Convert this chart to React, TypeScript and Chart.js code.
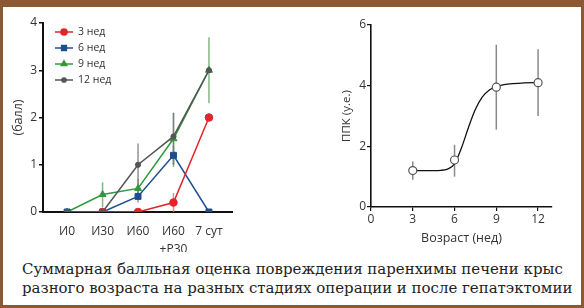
import React, { useEffect, useRef, useState } from 'react';
import { Chart, registerables } from 'chart.js';
import { drawPoint } from 'chart.js/helpers';

Chart.register(...registerables);

// ---------- Left chart data ----------
const stageLabels: (string | string[])[] = ['И0', 'И30', 'И60', ['И60', '+Р30'], '7 сут'];
const stageIdx = [0, 1, 2, 3, 4];
const leftYTicks = [0, 1, 2, 3, 4];
const seriesLabels = ['3 нед', '6 нед', '9 нед', '12 нед'];
const w3 = [null, 0, 0, 0.2, 2.0];
const w6 = [0, 0, 0.33, 1.2, 0];
const w9 = [0, 0.37, 0.5, 1.55, 3.0];
const w12 = [0, 0, 1.0, 1.6, 3.0];
const w3Lo = [null, null, null, 0.0, null];
const w3Hi = [null, null, null, 0.4, null];
const w6Lo = [null, null, 0.2, 1.0, null];
const w6Hi = [null, null, 0.45, 1.4, null];
const w9Lo = [null, 0.1, 0.3, 0.95, 2.3];
const w9Hi = [null, 0.63, 0.7, 2.1, 3.7];
const w12Lo = [null, null, 0.3, 1.0, null];
const w12Hi = [null, null, 1.45, 2.1, null];

// ---------- Right chart data ----------
const ageWeeks = [3, 6, 9, 12];
const ppk = [1.2, 1.55, 3.95, 4.1];
const ppkLo = [0.9, 1.0, 2.55, 3.0];
const ppkHi = [1.5, 2.05, 5.35, 5.2];
const fitX = [3, 4, 5, 5.5, 6, 6.5, 7, 7.5, 8, 8.5, 9, 10, 11, 12];
const fitY = [1.2, 1.2, 1.21, 1.25, 1.42, 1.95, 2.62, 3.22, 3.63, 3.86, 3.97, 4.06, 4.09, 4.1];
const rightXTicks = [0, 3, 6, 9, 12];
const rightYTicks = [0, 2, 4, 6];

const captionLines = [
  'Суммарная балльная оценка повреждения паренхимы печени крыс',
  'разного возраста на разных стадиях операции и после гепатэктомии',
];

const FONT = "'Open Sans', 'DejaVu Sans', sans-serif";
const SERIF = "'DejaVu Serif', 'Liberation Serif', serif";

const errorBarPlugin = {
  id: 'errorBars',
  beforeDatasetsDraw(chart: any) {
    const ctx = chart.ctx;
    const yScale = chart.scales.y;
    chart.data.datasets.forEach((ds: any, i: number) => {
      if (!ds.errLo) return;
      const meta = chart.getDatasetMeta(i);
      ctx.save();
      ctx.strokeStyle = ds.errColor;
      ctx.lineWidth = ds.errWidth || 1.5;
      meta.data.forEach((pt: any, j: number) => {
        const lo = ds.errLo[j];
        const hi = ds.errHi[j];
        if (lo == null || hi == null) return;
        ctx.beginPath();
        ctx.moveTo(pt.x, yScale.getPixelForValue(lo));
        ctx.lineTo(pt.x, yScale.getPixelForValue(hi));
        ctx.stroke();
      });
      ctx.restore();
    });
  },
};

const legendPlugin = {
  id: 'inlineLegend',
  afterDraw(chart: any) {
    const ctx = chart.ctx;
    const x0 = 51;
    const y0 = 25;
    const step = 16;
    chart.data.datasets.forEach((ds: any, i: number) => {
      const y = y0 + i * step;
      ctx.save();
      ctx.strokeStyle = ds.borderColor;
      ctx.lineWidth = 1.5;
      ctx.beginPath();
      ctx.moveTo(x0, y);
      ctx.lineTo(x0 + 18, y);
      ctx.stroke();
      ctx.fillStyle = ds.backgroundColor;
      ctx.strokeStyle = ds.borderColor;
      drawPoint(ctx, { pointStyle: ds.pointStyle, radius: ds.pointRadius * 0.8, rotation: 0, borderWidth: 1 }, x0 + 9, y);
      ctx.fillStyle = '#333';
      ctx.font = `10.5px ${FONT}`;
      ctx.textBaseline = 'middle';
      ctx.fillText(ds.label, x0 + 23, y + 0.5);
      ctx.restore();
    });
  },
};

function toPoints(xs: number[], ys: (number | null)[]) {
  return xs.map((x, i) => ({ x, y: ys[i] }));
}

function LeftChart() {
  const ref = useRef<HTMLCanvasElement>(null);
  useEffect(() => {
    const mk = (label: string, data: any[], color: string, style: string, r: number, lo: any[], hi: any[], errColor: string, order: number) => ({
      label,
      data: toPoints(stageIdx, data),
      borderColor: color,
      backgroundColor: color,
      pointStyle: style,
      pointRadius: r,
      pointBorderWidth: 1,
      borderWidth: 1.5,
      spanGaps: false,
      errLo: lo,
      errHi: hi,
      errColor,
      order,
    });
    const chart = new Chart(ref.current!, {
      type: 'line',
      data: {
        datasets: [
          mk(seriesLabels[0], w3, '#e3242b', 'circle', 3.8, w3Lo, w3Hi, 'rgba(230,110,110,0.8)', 2),
          mk(seriesLabels[1], w6, '#1d4f8f', 'rect', 4.2, w6Lo, w6Hi, 'rgba(80,110,160,0.7)', 3),
          mk(seriesLabels[2], w9, '#2e9a3b', 'triangle', 4, w9Lo, w9Hi, 'rgba(110,170,110,0.85)', 4),
          mk(seriesLabels[3], w12, '#555555', 'circle', 2.6, w12Lo, w12Hi, 'rgba(120,120,120,0.8)', 1),
        ] as any,
      },
      options: {
        responsive: false,
        animation: false,
        layout: { padding: { left: 7, top: 16, right: 8, bottom: 0 } },
        plugins: { legend: { display: false }, tooltip: { enabled: false } },
        scales: {
          x: {
            type: 'linear',
            min: -0.68,
            max: 4.65,
            afterBuildTicks: (s: any) => { s.ticks = stageIdx.map((v) => ({ value: v })); },
            afterFit: (s: any) => { s.height = 40; },
            grid: { display: false },
            border: { display: true, color: '#111', width: 2 },
            ticks: {
              color: '#333',
              font: { family: FONT, size: 12, lineHeight: 1.45 },
              padding: 3,
              maxRotation: 0,
              autoSkip: false,
              callback: (v: any) => stageLabels[v as number] as any,
            },
          },
          y: {
            min: 0,
            max: 4,
            afterBuildTicks: (s: any) => { s.ticks = leftYTicks.map((v) => ({ value: v })); },
            afterFit: (s: any) => { s.width = 32; },
            grid: { display: true, drawOnChartArea: false, drawTicks: true, tickLength: 4, color: '#111', lineWidth: 1.5 },
            border: { display: true, color: '#111', width: 2 },
            ticks: { color: '#333', font: { family: FONT, size: 12 }, padding: 2 },
            title: { display: true, text: '(балл)', color: '#333', font: { family: FONT, size: 12.5, lineHeight: 1.2 }, padding: 0 },
          },
        },
      },
      plugins: [errorBarPlugin, legendPlugin],
    } as any);
    return () => chart.destroy();
  }, []);
  return <canvas ref={ref} width={236} height={245} style={{ position: 'absolute', left: 4, top: 7, width: 236, height: 245 }} />;
}

function RightChart() {
  const ref = useRef<HTMLCanvasElement>(null);
  useEffect(() => {
    const chart = new Chart(ref.current!, {
      type: 'scatter',
      data: {
        datasets: [
          {
            label: 'ППК',
            data: toPoints(ageWeeks, ppk),
            showLine: false,
            pointRadius: 4,
            pointBackgroundColor: '#ffffff',
            pointBorderColor: '#555555',
            pointBorderWidth: 1.2,
            errLo: ppkLo,
            errHi: ppkHi,
            errColor: '#8a8a8a',
            errWidth: 1.5,
          },
          {
            label: 'fit',
            data: toPoints(fitX, fitY),
            showLine: true,
            cubicInterpolationMode: 'monotone',
            borderColor: '#111111',
            borderWidth: 1.3,
            pointRadius: 0,
          },
        ] as any,
      },
      options: {
        responsive: false,
        animation: false,
        layout: { padding: { left: 100, top: 18, right: 28, bottom: 6 } },
        plugins: { legend: { display: false }, tooltip: { enabled: false } },
        scales: {
          x: {
            type: 'linear',
            min: 0,
            max: 13,
            afterBuildTicks: (s: any) => { s.ticks = rightXTicks.map((v) => ({ value: v })); },
            afterFit: (s: any) => { s.height = 39; },
            grid: { display: true, drawOnChartArea: false, drawTicks: true, tickLength: 4, color: '#111', lineWidth: 1.2 },
            border: { display: true, color: '#111', width: 1.6 },
            ticks: { color: '#333', font: { family: FONT, size: 12 }, padding: 1, maxRotation: 0, autoSkip: false },
            title: { display: true, text: 'Возраст (нед)', color: '#333', font: { family: FONT, size: 12.5, lineHeight: 1.2 }, padding: 0 },
          },
          y: {
            min: 0,
            max: 6,
            afterBuildTicks: (s: any) => { s.ticks = rightYTicks.map((v) => ({ value: v })); },
            afterFit: (s: any) => { s.width = 31; },
            grid: { display: true, drawOnChartArea: false, drawTicks: true, tickLength: 4, color: '#111', lineWidth: 1.2 },
            border: { display: true, color: '#111', width: 1.6 },
            ticks: { color: '#333', font: { family: FONT, size: 12 }, padding: 1 },
            title: { display: true, text: 'ППК (у.е.)', color: '#333', font: { family: FONT, size: 11.5, lineHeight: 1.2 }, padding: 0 },
          },
        },
      },
      plugins: [errorBarPlugin],
    } as any);
    return () => chart.destroy();
  }, []);
  return <canvas ref={ref} width={340} height={245} style={{ position: 'absolute', left: 240, top: 7, width: 340, height: 245 }} />;
}

function fitCaptionSize(): number {
  try {
    const c = document.createElement('canvas');
    const ctx = c.getContext('2d')!;
    ctx.font = `100px ${SERIF}`;
    const w = ctx.measureText(captionLines[0]).width;
    if (w > 0) return (100 * 541) / w;
  } catch (e) {}
  return 14;
}

export default function App() {
  const [capSize] = useState(fitCaptionSize);
  return (
    <div style={{ position: 'fixed', left: 0, top: 0, width: 584, height: 308, background: '#8b5a35', overflow: 'hidden' }}>
      <div style={{ position: 'absolute', left: 3, top: 7, width: 578, height: 298, background: '#ffffff' }} />
      <LeftChart />
      <RightChart />
      <div
        style={{
          position: 'absolute',
          left: 22,
          top: 260,
          fontFamily: SERIF,
          fontSize: capSize,
          lineHeight: '19px',
          color: '#222',
          whiteSpace: 'nowrap',
        }}
      >
        {captionLines.map((l, i) => (
          <div key={i}>{l}</div>
        ))}
      </div>
    </div>
  );
}
